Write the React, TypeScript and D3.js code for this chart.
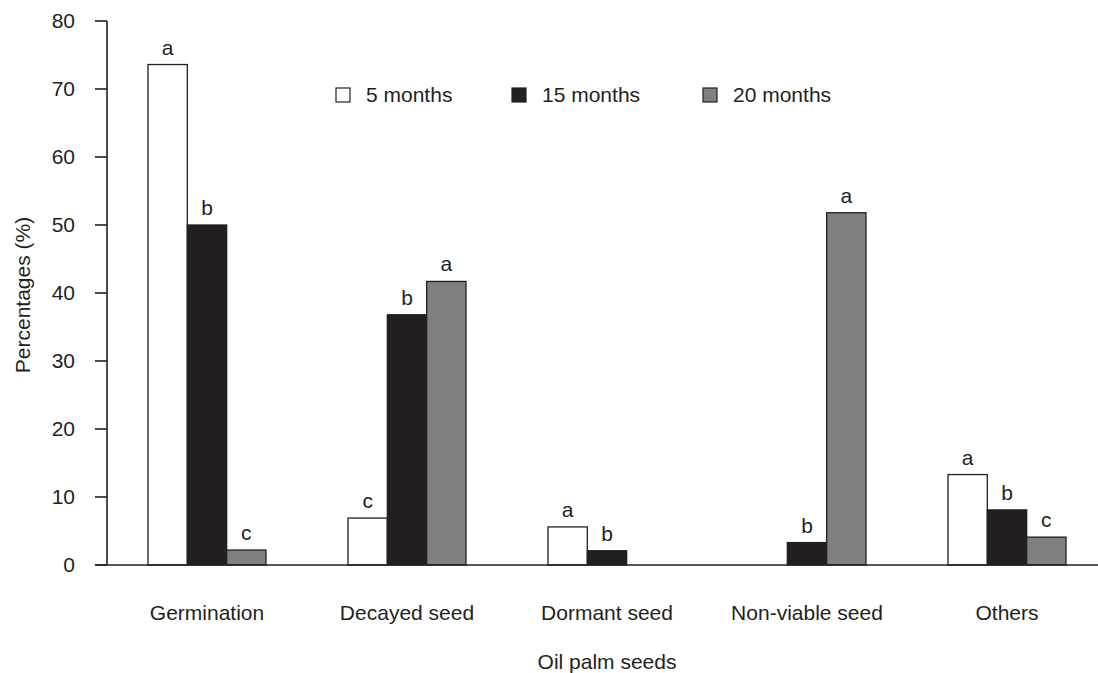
import { useEffect, useRef } from "react";
import * as d3 from "d3";

const categories = ["Germination", "Decayed seed", "Dormant seed", "Non-viable seed", "Others"];
const seriesNames = ["5 months", "15 months", "20 months"];
const months5 = [73.6, 6.9, 5.6, 0, 13.3];
const months15 = [50.0, 36.8, 2.1, 3.3, 8.1];
const months20 = [2.2, 41.7, 0, 51.8, 4.1];
const letters5 = ["a", "c", "a", "", "a"];
const letters15 = ["b", "b", "b", "b", "b"];
const letters20 = ["c", "a", "", "a", "c"];
const yTicks = [0, 10, 20, 30, 40, 50, 60, 70, 80];

const INK = "#231f20";
const fills = ["#ffffff", "#231f20", "#808080"];
const FS = 21;

export default function App() {
  const svgRef = useRef<SVGSVGElement | null>(null);

  useEffect(() => {
    if (!svgRef.current) return;
    const width = 1098;
    const height = 673;
    const svg = d3.select(svgRef.current);
    svg.selectAll("*").remove();
    svg.attr("width", width).attr("height", height)
      .style("font-family", "'Liberation Sans', Arial, sans-serif");

    const left = 107;
    const y = d3.scaleLinear().domain([0, 80]).range([565, 21]);
    const x0 = d3.scaleBand<string>().domain(categories).range([left, left + 1000]);
    const x1 = d3.scaleBand<string>().domain(seriesNames).range([41, 159]);

    const values = [months5, months15, months20];
    const letters = [letters5, letters15, letters20];

    // bars
    const g = svg.append("g");
    seriesNames.forEach((s, si) => {
      categories.forEach((c, ci) => {
        const v = values[si][ci];
        const bx = x0(c)! + x1(s)!;
        const bw = x1.bandwidth();
        if (v > 0) {
          g.append("rect")
            .attr("x", bx)
            .attr("y", y(v))
            .attr("width", bw)
            .attr("height", y(0) - y(v))
            .attr("fill", fills[si])
            .attr("stroke", INK)
            .attr("stroke-width", 1.3);
        }
        const lab = letters[si][ci];
        if (lab) {
          g.append("text")
            .attr("x", bx + bw / 2)
            .attr("y", y(v) - 10)
            .attr("text-anchor", "middle")
            .attr("font-size", FS)
            .attr("fill", INK)
            .text(lab);
        }
      });
    });

    // axes
    const ax = svg.append("g").attr("stroke", INK).attr("stroke-width", 1.6);
    ax.append("line").attr("x1", left).attr("x2", left).attr("y1", y(80)).attr("y2", y(0));
    ax.append("line").attr("x1", 95).attr("x2", width).attr("y1", y(0)).attr("y2", y(0));
    yTicks.forEach((t) => {
      ax.append("line").attr("x1", 95).attr("x2", left).attr("y1", y(t)).attr("y2", y(t));
      svg.append("text")
        .attr("x", 75)
        .attr("y", y(t))
        .attr("dy", "0.35em")
        .attr("text-anchor", "end")
        .attr("font-size", FS)
        .attr("fill", INK)
        .text(t);
    });

    // category labels
    categories.forEach((c) => {
      svg.append("text")
        .attr("x", x0(c)! + x0.bandwidth() / 2)
        .attr("y", 620)
        .attr("text-anchor", "middle")
        .attr("font-size", FS)
        .attr("fill", INK)
        .text(c);
    });

    svg.append("text")
      .attr("x", x0(categories[2])! + x0.bandwidth() / 2)
      .attr("y", 669)
      .attr("text-anchor", "middle")
      .attr("font-size", FS)
      .attr("fill", INK)
      .text("Oil palm seeds");

    svg.append("text")
      .attr("transform", "translate(30,295) rotate(-90)")
      .attr("text-anchor", "middle")
      .attr("font-size", FS)
      .attr("fill", INK)
      .text("Percentages (%)");

    // legend
    const legendX = [336, 512, 703];
    seriesNames.forEach((s, i) => {
      svg.append("rect")
        .attr("x", legendX[i])
        .attr("y", 88)
        .attr("width", 14)
        .attr("height", 14)
        .attr("fill", fills[i])
        .attr("stroke", INK)
        .attr("stroke-width", 1.2);
      svg.append("text")
        .attr("x", legendX[i] + 30)
        .attr("y", 102)
        .attr("font-size", FS)
        .attr("fill", INK)
        .text(s);
    });
  }, []);

  return <svg ref={svgRef} style={{ position: "absolute", left: 0, top: 0 }}></svg>;
}
